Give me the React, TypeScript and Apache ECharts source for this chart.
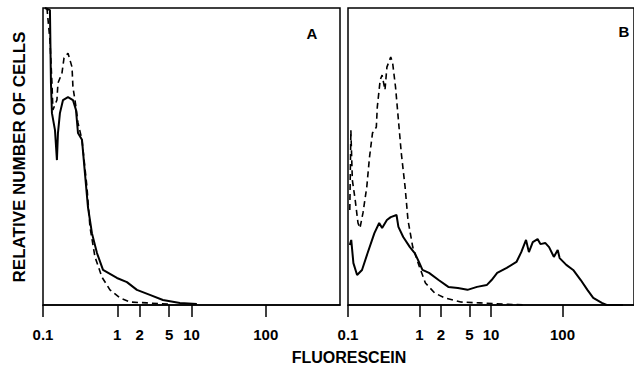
import React, { useEffect, useRef } from "react";
import * as echarts from "echarts";

// Tick positions and labels on the fluorescein (log) axis
const tickValues = [0.1, 1, 2, 5, 10, 100];
const tickLabels = ["0.1", "1", "2", "5", "10", "100"];

// Panel A
const aSolidX = [0.106, 0.124, 0.128, 0.132, 0.145, 0.154, 0.159, 0.169, 0.186, 0.217, 0.253, 0.278, 0.296, 0.335, 0.367, 0.403, 0.456, 0.533, 0.643, 0.99, 1.35, 1.84, 2.75, 4.12, 6.98, 11.8];
const aSolidY = [100, 99.3, 74.7, 64.6, 58.9, 48.8, 57.9, 64.6, 69.0, 70.0, 69.0, 65.7, 57.9, 55.6, 44.4, 33.0, 24.2, 17.5, 11.8, 9.1, 7.7, 5.1, 3.4, 1.7, 0.7, 0.3];
const aDashX = [0.113, 0.124, 0.132, 0.136, 0.154, 0.159, 0.18, 0.192, 0.217, 0.246, 0.253, 0.278, 0.296, 0.335, 0.391, 0.429, 0.501, 0.622, 0.797, 1.09, 1.48, 2.51, 5.12];
const aDashY = [100, 89.2, 74.7, 65.7, 69.0, 74.7, 78.1, 83.2, 84.8, 80.1, 73.4, 66.7, 61.3, 55.6, 39.7, 26.3, 16.2, 9.4, 5.1, 2.4, 1.0, 0.7, 0.3];

// Panel B
const bSolidX = [0.106, 0.111, 0.119, 0.134, 0.157, 0.188, 0.234, 0.273, 0.3, 0.35, 0.396, 0.477, 0.507, 0.592, 0.734, 0.857, 1.0, 1.1, 1.36, 1.85, 2.53, 3.44, 4.69, 6.38, 8.71, 10.2, 12.2, 16.6, 22.7, 26.5, 30.9, 33.9, 38.4, 44.8, 49.1, 57.3, 64.9, 75.7, 85.7, 91.2, 113, 141, 180, 223, 269, 355, 414, 700];
const bSolidY = [20.2, 21.9, 14.1, 10.1, 11.8, 17.5, 24.2, 27.6, 25.9, 28.6, 29.6, 30.3, 26.3, 22.9, 19.5, 17.5, 14.1, 11.8, 10.8, 8.4, 6.1, 5.7, 5.1, 6.1, 6.7, 8.4, 10.8, 12.5, 14.5, 17.8, 21.9, 17.8, 21.2, 22.2, 20.5, 20.9, 19.5, 16.2, 18.5, 15.8, 13.5, 11.8, 8.4, 5.1, 2.4, 0.7, 0, 0];
const bDashX = [0.106, 0.1097, 0.115, 0.126, 0.138, 0.147, 0.162, 0.183, 0.2, 0.22, 0.249, 0.257, 0.282, 0.3, 0.329, 0.35, 0.396, 0.421, 0.462, 0.507, 0.556, 0.629, 0.69, 0.805, 1.0, 1.21, 1.64, 2.24, 3.78, 7.02, 15.2, 30];
const bDashY = [32.0, 58.9, 42.1, 35.4, 27.6, 25.9, 31.0, 39.7, 49.8, 57.9, 59.9, 66.7, 75.8, 77.4, 72.4, 80.1, 83.5, 81.5, 73.4, 62.3, 51.2, 39.7, 28.6, 19.5, 12.8, 7.4, 4.0, 2.4, 1.0, 0.7, 0.3, 0];

const FONT = '"Liberation Sans", Arial, sans-serif';

const toPairs = (xs: number[], ys: number[]) => xs.map((x, i) => [Math.log10(x), ys[i]]);
const tickLogs = tickValues.map((v) => Math.log10(v));
const fmt = (v: number) => {
  for (let i = 0; i < tickLogs.length; i++) {
    if (Math.abs(tickLogs[i] - v) < 1e-6) return tickLabels[i];
  }
  return "";
};

const makeXAxis = (gridIndex: number) => ({
  type: "value",
  gridIndex,
  min: -1,
  max: 3,
  position: "bottom",
  axisLine: { show: true, lineStyle: { color: "#000", width: 1.5 } },
  axisTick: {
    show: true,
    inside: false,
    length: 12,
    customValues: tickLogs,
    lineStyle: { color: "#000", width: 1.5 },
  },
  axisLabel: {
    show: true,
    customValues: tickLogs,
    formatter: fmt,
    margin: 22,
    color: "#000",
    fontFamily: FONT,
    fontWeight: "bold",
    fontSize: 15,
  },
  splitLine: { show: false },
});

const makeYAxis = (gridIndex: number) => ({
  type: "value",
  gridIndex,
  min: 0,
  max: 100,
  show: false,
});

export default function App() {
  const ref = useRef<HTMLDivElement>(null);
  useEffect(() => {
    if (!ref.current) return;
    const chart = echarts.init(ref.current, null, { renderer: "svg" });
    const solid = { color: "#000", width: 2 };
    const dashed = { color: "#000", width: 1.6, type: [6, 4] };
    chart.setOption({
      animation: false,
      backgroundColor: "#fff",
      grid: [
        { left: 43, top: 8, width: 297, height: 297, show: true, borderColor: "#000", borderWidth: 1.5, backgroundColor: "transparent" },
        { left: 348, top: 8, width: 298, height: 297, show: true, borderColor: "#000", borderWidth: 1.5, backgroundColor: "transparent" },
      ],
      xAxis: [makeXAxis(0), makeXAxis(1)],
      yAxis: [makeYAxis(0), makeYAxis(1)],
      series: [
        { type: "line", xAxisIndex: 0, yAxisIndex: 0, data: toPairs(aSolidX, aSolidY), showSymbol: false, lineStyle: solid },
        { type: "line", xAxisIndex: 0, yAxisIndex: 0, data: toPairs(aDashX, aDashY), showSymbol: false, lineStyle: dashed },
        { type: "line", xAxisIndex: 1, yAxisIndex: 1, data: toPairs(bSolidX, bSolidY), showSymbol: false, lineStyle: solid },
        { type: "line", xAxisIndex: 1, yAxisIndex: 1, data: toPairs(bDashX, bDashY), showSymbol: false, lineStyle: dashed },
      ],
      graphic: [
        {
          type: "text",
          x: 19,
          y: 157,
          rotation: Math.PI / 2,
          style: { text: "RELATIVE NUMBER OF CELLS", font: `bold 17px ${FONT}`, fill: "#000", textAlign: "center", textVerticalAlign: "middle" },
        },
        {
          type: "text",
          x: 349,
          y: 357,
          style: { text: "FLUORESCEIN", font: `bold 16px ${FONT}`, fill: "#000", textAlign: "center", textVerticalAlign: "middle" },
        },
        {
          type: "text",
          x: 312,
          y: 33,
          style: { text: "A", font: `bold 15px ${FONT}`, fill: "#000", textAlign: "center", textVerticalAlign: "middle" },
        },
        {
          type: "text",
          x: 624,
          y: 31,
          style: { text: "B", font: `bold 15px ${FONT}`, fill: "#000", textAlign: "center", textVerticalAlign: "middle" },
        },
      ],
    });
    return () => chart.dispose();
  }, []);
  return (
    <div
      ref={ref}
      style={{ position: "fixed", left: 0, top: 0, width: 634, height: 368, background: "#fff" }}
    />
  );
}
